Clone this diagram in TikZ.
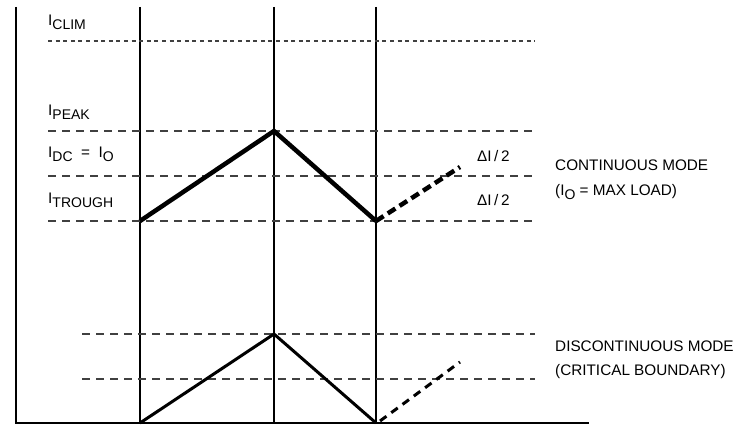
\documentclass[tikz,border=0pt]{standalone}
\usepackage{fontspec}
\setmainfont{Liberation Sans}
\usetikzlibrary{calc}
\def\subsz{\fontsize{14}{14}\selectfont}
\def\isub(#1,#2,#3,#4){
  \node[lbl, anchor=base west] (#4) at (#1,#2) {I\raisebox{-4pt}{\subsz #3}};
}
\tikzset{
  lbl/.style={inner sep=0pt, font=\fontsize{15.3}{18}\selectfont},
  levelline/.style={line width=1.8pt, draw=black!75, dash pattern=on 8pt off 6pt},
  climline/.style={line width=2pt, draw=black!75, dash pattern=on 4pt off 3.6pt},
  rampthick/.style={line width=4.5pt, line join=miter},
  rampthin/.style={line width=3pt},
}
\begin{document}
\begin{tikzpicture}[x=1pt, y=-1pt]
\useasboundingbox (0,0) rectangle (738,438);
% axes and time marks
\coordinate (ax_top) at (16,7);
\coordinate (ax_org) at (16,423);
\coordinate (ax_end) at (589,423);
\draw[line width=1.6pt] (ax_top) -- (ax_org) -- (ax_end);
\foreach \tx/\nm in {140/ta, 274/tb, 376/tc}{
  \coordinate (\nm_top) at (\tx,7);
  \coordinate (\nm_bot) at (\tx,423);
  \draw[line width=1.5pt] (\nm_top) -- (\nm_bot);
}
% level lines
\coordinate (clim_l) at (48,41);   \coordinate (clim_r) at (535,41);
\draw[climline] (clim_l) -- (clim_r);
\foreach \ly/\nm in {131/pk, 176/dc, 221/tr}{
  \coordinate (\nm_l) at (48,\ly);
  \coordinate (\nm_r) at (535,\ly);
  \draw[levelline] (\nm_l) -- (\nm_r);
}
\foreach \ly/\nm in {334/dpk, 379/ddc}{
  \coordinate (\nm_l) at (82,\ly);
  \coordinate (\nm_r) at (535,\ly);
  \draw[levelline] (\nm_l) -- (\nm_r);
}
% labels
\isub(48,26,CLIM,l_clim)
\isub(48,116,PEAK,l_peak)
\node[lbl, anchor=base west] (l_dc) at (48,158) {I\raisebox{-4pt}{\subsz DC}\; = \;I\raisebox{-4pt}{\subsz O}};
\isub(48,204,TROUGH,l_trough)
\node[lbl, anchor=base west] (l_dip) at (477,162) {ΔI\,/\,2};
\node[lbl, anchor=base west] (l_dim) at (477,206) {ΔI\,/\,2};
\node[lbl, anchor=base west] (l_cont) at (555,171) {CONTINUOUS MODE};
\node[lbl, anchor=base west] (l_contb) at (555,196) {(I\raisebox{-4pt}{\subsz O} = MAX LOAD)};
\node[lbl, anchor=base west] (l_disc) at (555,351) {DISCONTINUOUS MODE};
\node[lbl, anchor=base west] (l_discb) at (555,375) {(CRITICAL BOUNDARY)};
% continuous ramp
\coordinate (c0) at (140,221);
\coordinate (c1) at (274,131);
\coordinate (c2) at (376,221);
\coordinate (c3) at (460,167);
\draw[rampthick] (c0) -- (c1) -- (c2);
\draw[rampthick, dash pattern=on 9pt off 5pt] (c2) -- (c3);
% discontinuous ramp
\coordinate (d0) at (140,423);
\coordinate (d1) at (274,334);
\coordinate (d2) at (376,423);
\coordinate (d3) at (460,362);
\draw[rampthin] (d0) -- (d1) -- (d2);
\draw[rampthin, dash pattern=on 8pt off 6pt] ($(d2)+(4,-2)$) -- (d3);
\end{tikzpicture}
\end{document}
